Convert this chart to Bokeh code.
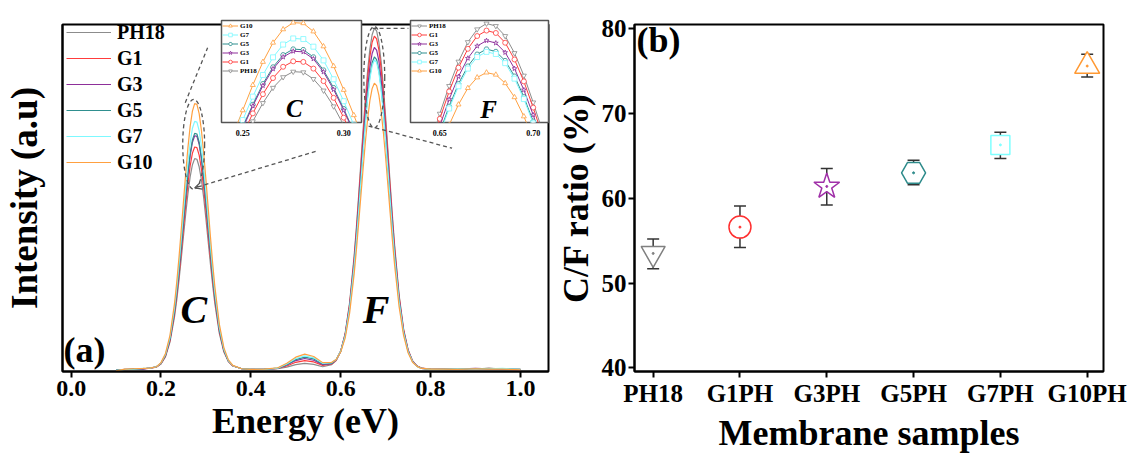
from math import pi
from bokeh.plotting import figure
from bokeh.models import (Range1d, FixedTicker, NumeralTickFormatter, Legend, LegendItem, Label,
                          Whisker, TeeHead, ColumnDataSource, Arrow, OpenHead, GridBox)
from bokeh.embed import file_html
from bokeh.resources import INLINE

FONT = "Liberation Serif"

# ---------------- data: panel (a) ----------------
energy = [0.100, 0.120, 0.140, 0.160,
          0.175, 0.190, 0.200, 0.210, 0.220, 0.230,
          0.235, 0.240, 0.245, 0.250, 0.255, 0.260, 0.265, 0.270, 0.275, 0.280, 0.285, 0.290, 0.295,
          0.300, 0.305, 0.310, 0.315, 0.320,
          0.330, 0.340, 0.350, 0.360, 0.380,
          0.400, 0.430,
          0.460, 0.480, 0.500, 0.520, 0.540, 0.560, 0.580, 0.590, 0.600, 0.610, 0.620,
          0.630, 0.635, 0.640, 0.645, 0.650, 0.655, 0.660, 0.665, 0.670, 0.675, 0.680, 0.685, 0.690,
          0.695, 0.700, 0.705, 0.710, 0.715, 0.720,
          0.730, 0.740, 0.750, 0.760, 0.770, 0.780,
          0.800, 0.830, 0.860, 0.900, 0.930, 0.960, 1.000]

ph18 = [0.004, 0.006, 0.007, 0.008,
        0.010, 0.013, 0.022, 0.043, 0.086, 0.159,
        0.208, 0.266, 0.329, 0.396, 0.461, 0.521, 0.571, 0.606, 0.624, 0.622, 0.600, 0.562, 0.510,
        0.448, 0.382, 0.316, 0.254, 0.198,
        0.111, 0.057, 0.029, 0.016, 0.008,
        0.006, 0.006,
        0.008, 0.013, 0.020, 0.024, 0.021, 0.014, 0.020, 0.032, 0.059, 0.112, 0.203,
        0.339, 0.423, 0.516, 0.613, 0.710, 0.801, 0.881, 0.945, 0.987, 1.006, 0.998, 0.965, 0.909,
        0.835, 0.747, 0.652, 0.554, 0.459, 0.371,
        0.225, 0.125, 0.064, 0.031, 0.016, 0.010,
        0.006, 0.007, 0.006, 0.008, 0.007, 0.008, 0.006]

g1 = [0.003, 0.005, 0.007, 0.008,
      0.010, 0.013, 0.023, 0.045, 0.090, 0.167,
      0.220, 0.280, 0.347, 0.418, 0.487, 0.550, 0.603, 0.640, 0.658, 0.656, 0.634, 0.593, 0.538,
      0.473, 0.403, 0.334, 0.268, 0.209,
      0.117, 0.060, 0.030, 0.016, 0.008,
      0.007, 0.006,
      0.009, 0.016, 0.027, 0.032, 0.028, 0.018, 0.022, 0.033, 0.060, 0.110, 0.198,
      0.331, 0.413, 0.504, 0.599, 0.693, 0.783, 0.861, 0.923, 0.965, 0.983, 0.975, 0.943, 0.888,
      0.816, 0.730, 0.637, 0.541, 0.449, 0.363,
      0.220, 0.122, 0.063, 0.031, 0.016, 0.010,
      0.007, 0.006, 0.008, 0.007, 0.009, 0.007, 0.006]

g3 = [0.003, 0.006, 0.006, 0.007,
      0.010, 0.014, 0.024, 0.047, 0.094, 0.175,
      0.230, 0.294, 0.365, 0.438, 0.511, 0.578, 0.633, 0.672, 0.691, 0.689, 0.666, 0.623, 0.565,
      0.497, 0.424, 0.350, 0.281, 0.219,
      0.122, 0.063, 0.031, 0.017, 0.008,
      0.006, 0.007,
      0.009, 0.019, 0.032, 0.038, 0.033, 0.020, 0.023, 0.034, 0.059, 0.107, 0.192,
      0.320, 0.400, 0.487, 0.579, 0.670, 0.757, 0.832, 0.892, 0.932, 0.950, 0.942, 0.911, 0.858,
      0.788, 0.706, 0.615, 0.523, 0.434, 0.351,
      0.213, 0.118, 0.061, 0.030, 0.016, 0.009,
      0.006, 0.008, 0.007, 0.009, 0.008, 0.007, 0.005]

g5 = [0.004, 0.005, 0.007, 0.008,
      0.010, 0.014, 0.024, 0.048, 0.095, 0.177,
      0.233, 0.297, 0.368, 0.443, 0.516, 0.584, 0.639, 0.679, 0.698, 0.696, 0.672, 0.629, 0.571,
      0.502, 0.428, 0.354, 0.284, 0.221,
      0.123, 0.063, 0.031, 0.017, 0.008,
      0.006, 0.006,
      0.010, 0.020, 0.035, 0.042, 0.037, 0.022, 0.024, 0.035, 0.059, 0.105, 0.187,
      0.311, 0.388, 0.473, 0.562, 0.650, 0.734, 0.808, 0.866, 0.905, 0.922, 0.914, 0.884, 0.833,
      0.765, 0.685, 0.597, 0.508, 0.421, 0.341,
      0.207, 0.115, 0.059, 0.029, 0.015, 0.009,
      0.007, 0.006, 0.007, 0.008, 0.009, 0.008, 0.006]

g7 = [0.003, 0.006, 0.007, 0.009,
      0.010, 0.014, 0.025, 0.050, 0.100, 0.186,
      0.244, 0.312, 0.386, 0.465, 0.542, 0.613, 0.671, 0.713, 0.733, 0.731, 0.706, 0.661, 0.599,
      0.527, 0.449, 0.371, 0.298, 0.232,
      0.129, 0.066, 0.032, 0.017, 0.008,
      0.007, 0.006,
      0.010, 0.022, 0.038, 0.046, 0.040, 0.024, 0.026, 0.035, 0.059, 0.104, 0.185,
      0.308, 0.384, 0.468, 0.556, 0.644, 0.727, 0.800, 0.858, 0.896, 0.913, 0.906, 0.876, 0.825,
      0.758, 0.678, 0.592, 0.503, 0.417, 0.337,
      0.205, 0.114, 0.059, 0.029, 0.015, 0.009,
      0.006, 0.007, 0.008, 0.007, 0.008, 0.009, 0.006]

g10 = [0.002, 0.007, 0.008, 0.009,
       0.010, 0.014, 0.026, 0.053, 0.106, 0.198,
       0.261, 0.333, 0.414, 0.497, 0.580, 0.656, 0.719, 0.763, 0.785, 0.783, 0.756, 0.707, 0.642,
       0.564, 0.481, 0.397, 0.318, 0.248,
       0.138, 0.070, 0.034, 0.018, 0.008,
       0.006, 0.007,
       0.011, 0.024, 0.042, 0.051, 0.044, 0.026, 0.027, 0.035, 0.057, 0.098, 0.172,
       0.285, 0.356, 0.434, 0.515, 0.596, 0.673, 0.740, 0.794, 0.829, 0.845, 0.838, 0.810, 0.764,
       0.701, 0.628, 0.548, 0.466, 0.386, 0.312,
       0.190, 0.106, 0.055, 0.027, 0.015, 0.009,
       0.007, 0.007, 0.006, 0.008, 0.007, 0.007, 0.005]

series_names = ["PH18", "G1", "G3", "G5", "G7", "G10"]
series_values = [ph18, g1, g3, g5, g7, g10]
line_colors = ["#8C8C8C", "#FF3C3C", "#8E2F9A", "#2F8F8F", "#7DF9FF", "#FFA040"]
marker_types = ["inverted_triangle", "circle", "star", "hex", "square", "triangle"]

energy_ticks = [0.0, 0.2, 0.4, 0.6, 0.8, 1.0]

# ---------------- data: panel (b) ----------------
samples = ["PH18", "G1PH", "G3PH", "G5PH", "G7PH", "G10PH"]
cf_ratio = [53.5, 56.6, 61.4, 63.0, 66.3, 75.6]
cf_upper = [55.2, 59.1, 63.5, 64.5, 67.8, 77.0]
cf_lower = [51.7, 54.2, 59.2, 61.6, 64.7, 74.3]
ratio_ticks = [40, 50, 60, 70, 80]
marker_colors = ["#808080", "#FF3030", "#A030A8", "#2E8B8B", "#7FFFFF", "#FF9933"]
marker_sizes = [24, 22, 27, 24, 19, 25]

DASH = "#555555"
INK = "black"

# ---------------- main spectrum figure ----------------
main = figure(width=552, height=455, x_range=Range1d(-0.0192, 1.0626), y_range=Range1d(0, 1.017),
              output_backend="svg", toolbar_location=None,
              min_border_left=62, min_border_right=1, min_border_top=16, min_border_bottom=80)
main.grid.visible = False
main.outline_line_color = "black"
main.outline_line_width = 2
main.background_fill_color = "white"

line_renderers = []
for name, ys, col in zip(series_names, series_values, line_colors):
    line_renderers.append(main.line(energy, ys, line_color=col, line_width=1.2))

legend = Legend(items=[LegendItem(label=n, renderers=[r]) for n, r in zip(series_names, line_renderers)],
                location=(4, 196), margin=0, padding=0, spacing=0,
                glyph_width=45, glyph_height=26, label_height=26, label_standoff=6,
                label_text_font=FONT, label_text_font_style="bold", label_text_font_size="20px",
                label_text_color=INK, background_fill_alpha=0, border_line_alpha=0)
main.add_layout(legend)

xa = main.xaxis[0]
xa.ticker = FixedTicker(ticks=energy_ticks)
xa.formatter = NumeralTickFormatter(format="0.0")
xa.axis_label = "Energy (eV)"
xa.axis_label_text_font = FONT
xa.axis_label_text_font_style = "bold"
xa.axis_label_text_font_size = "36px"
xa.axis_label_text_color = INK
xa.axis_label_standoff = 2
xa.major_label_text_font = FONT
xa.major_label_text_font_style = "bold"
xa.major_label_text_font_size = "24px"
xa.major_label_text_color = INK
xa.major_label_standoff = 3
xa.major_tick_out = 6
xa.major_tick_in = 0
xa.major_tick_line_width = 2
xa.major_tick_line_color = INK
xa.minor_tick_line_color = None
xa.axis_line_width = 2
xa.axis_line_color = INK

ya = main.yaxis[0]
ya.ticker = FixedTicker(ticks=[])
ya.major_tick_out = 0
ya.minor_tick_line_color = None
ya.axis_line_width = 2
ya.axis_line_color = INK
ya.axis_label = "Intensity (a.u)"
ya.axis_label_text_font = FONT
ya.axis_label_text_font_style = "bold"
ya.axis_label_text_font_size = "37px"
ya.axis_label_text_color = INK
ya.axis_label_standoff = 18

main.add_layout(Label(x=-0.0192, y=0, x_offset=1, y_offset=2, text="(a)", text_font=FONT,
                      text_font_style="bold", text_font_size="36px", text_align="left",
                      text_baseline="bottom", text_color=INK))
main.add_layout(Label(x=0.273, y=0.181, text="C", text_font=FONT, text_font_style="bold italic",
                      text_font_size="40px", text_align="center", text_baseline="middle", text_color=INK))
main.add_layout(Label(x=0.679, y=0.181, text="F", text_font=FONT, text_font_style="bold italic",
                      text_font_size="40px", text_align="center", text_baseline="middle", text_color=INK))

# dashed zoom markers
main.ellipse(x=[0.2728, 0.6748], y=[0.6657, 0.8626], width=[0.0487, 0.0465], height=[0.2635, 0.2975],
             fill_alpha=0, line_color=DASH, line_dash="4 3", line_width=1.3)
main.segment(x0=[0.2540, 0.6710, 0.6622], y0=[0.7875, 1.0057, 0.7195],
             x1=[0.3038, 0.7507, 0.8480], y1=[0.9490, 1.0057, 0.6544],
             line_color=DASH, line_dash="4 3", line_width=1.3)
main.add_layout(Arrow(end=OpenHead(size=7, line_color=DASH, line_width=1.3),
                      x_start=0.5442, y_start=0.6450, x_end=0.2750, y_end=0.5382,
                      line_color=DASH, line_dash="4 3", line_width=1.3))


# ---------------- insets ----------------
def make_inset(width, height, bl, br, bt, bb, xr, yr, ticks, order, letter, letter_xy, ylab_xy, xlab_xy):
    f = figure(width=width, height=height, x_range=Range1d(*xr), y_range=Range1d(*yr),
               output_backend="svg", toolbar_location=None,
               min_border_left=bl, min_border_right=br, min_border_top=bt, min_border_bottom=bb)
    f.border_fill_color = None
    f.background_fill_color = "white"
    f.outline_line_color = "#555555"
    f.outline_line_width = 1.5
    f.grid.visible = False
    f.yaxis.visible = False
    ax = f.xaxis[0]
    ax.ticker = FixedTicker(ticks=ticks)
    ax.formatter = NumeralTickFormatter(format="0.00")
    ax.axis_line_color = None
    ax.major_tick_line_color = None
    ax.minor_tick_line_color = None
    ax.major_label_standoff = 1
    ax.major_label_text_font = FONT
    ax.major_label_text_font_style = "bold"
    ax.major_label_text_font_size = "8px"
    ax.major_label_text_color = INK
    items = []
    for name in order:
        i = series_names.index(name)
        rl = f.line(energy, series_values[i], line_color=line_colors[i], line_width=1)
        rs = f.scatter(energy, series_values[i], marker=marker_types[i], size=5,
                       line_color=line_colors[i], fill_color="white", line_width=0.8)
        items.append(LegendItem(label=name, renderers=[rl, rs]))
    f.add_layout(Legend(items=items, location="top_left", margin=0, padding=1, spacing=0,
                        glyph_width=16, glyph_height=9, label_height=9, label_standoff=2,
                        label_text_font=FONT, label_text_font_style="bold", label_text_font_size="7px",
                        label_text_color=INK, background_fill_alpha=0, border_line_alpha=0))
    f.add_layout(Label(x=letter_xy[0], y=letter_xy[1], text=letter, text_font=FONT,
                       text_font_style="bold italic", text_font_size="25px", text_color=INK,
                       text_align="center", text_baseline="middle"))
    f.add_layout(Label(x=ylab_xy[0], y=ylab_xy[1], text="Intensity (a.u)", angle=pi / 2,
                       text_font=FONT, text_font_style="bold", text_font_size="10px", text_color=INK,
                       text_align="center", text_baseline="middle"))
    f.add_layout(Label(x=xlab_xy[0], y=xlab_xy[1], text="Energy (eV)", text_font=FONT,
                       text_font_style="bold", text_font_size="10px", text_color=INK,
                       text_align="center", text_baseline="middle"))
    f.styles = {"z-index": "2"}
    return f


inset_c = make_inset(164, 131, 21, 3, 2, 24, (0.2395, 0.3088), (0.457, 0.792), [0.25, 0.30],
                     ["G10", "G7", "G5", "G3", "G1", "PH18"], "C", (0.2756, 0.502),
                     (0.2350, 0.623), (0.2742, 0.409))
inset_f = make_inset(156, 131, 14, 4, 3, 26, (0.6343, 0.7082), (0.681, 1.016), [0.65, 0.70],
                     ["PH18", "G1", "G3", "G5", "G7", "G10"], "F", (0.6761, 0.724),
                     (0.6306, 0.835), (0.6761, 0.6285))

# ---------------- panel (b) ----------------
positions = list(range(len(samples)))
right = figure(width=579, height=455, x_range=Range1d(-0.215, 5.188), y_range=Range1d(39.57, 80.5),
               output_backend="svg", toolbar_location=None,
               min_border_left=81, min_border_right=28, min_border_top=24, min_border_bottom=78)
right.grid.visible = False
right.outline_line_color = "black"
right.outline_line_width = 2

src = ColumnDataSource(dict(x=positions, y=cf_ratio, upper=cf_upper, lower=cf_lower,
                            marker=marker_types, color=marker_colors, size=marker_sizes))
whisk = Whisker(source=src, base="x", upper="upper", lower="lower", line_color="#333333", line_width=1.5,
                upper_head=TeeHead(size=12, line_color="#333333", line_width=1.5),
                lower_head=TeeHead(size=12, line_color="#333333", line_width=1.5),
                level="underlay")
right.add_layout(whisk)
right.scatter("x", "y", marker="marker", size="size", line_color="color", fill_color="white",
              line_width=1.5, source=src)
right.scatter("x", "y", marker="circle", size=2, line_color="color", fill_color="color", source=src)

rx = right.xaxis[0]
rx.ticker = FixedTicker(ticks=positions)
rx.major_label_overrides = {i: s for i, s in zip(positions, samples)}
rx.axis_label = "Membrane samples"
ry = right.yaxis[0]
ry.ticker = FixedTicker(ticks=ratio_ticks)
ry.axis_label = "C/F ratio (%)"
for ax in (rx, ry):
    ax.axis_label_text_font = FONT
    ax.axis_label_text_font_style = "bold"
    ax.axis_label_text_font_size = "36px"
    ax.axis_label_text_color = INK
    ax.major_label_text_font = FONT
    ax.major_label_text_font_style = "bold"
    ax.major_label_text_font_size = "25px"
    ax.major_label_text_color = INK
    ax.major_tick_out = 6
    ax.major_tick_in = 0
    ax.major_tick_line_width = 2
    ax.major_tick_line_color = INK
    ax.minor_tick_line_color = None
    ax.axis_line_width = 2
    ax.axis_line_color = INK
    ax.major_label_standoff = 2
    ax.axis_label_standoff = 3

right.add_layout(Label(x=-0.215, y=80.5, x_offset=2, y_offset=5, text="(b)", text_font=FONT,
                       text_font_style="bold", text_font_size="36px", text_align="left",
                       text_baseline="top", text_color=INK))

layout = GridBox(children=[(main, 0, 0, 3, 4), (inset_c, 1, 1, 1, 1), (inset_f, 1, 3, 1, 1),
                           (right, 0, 4, 3, 1)],
                 rows=["17px", "131px", "307px"],
                 cols=["200px", "164px", "32px", "156px", "579px"])

open("out.html", "w").write(file_html(layout, INLINE))
